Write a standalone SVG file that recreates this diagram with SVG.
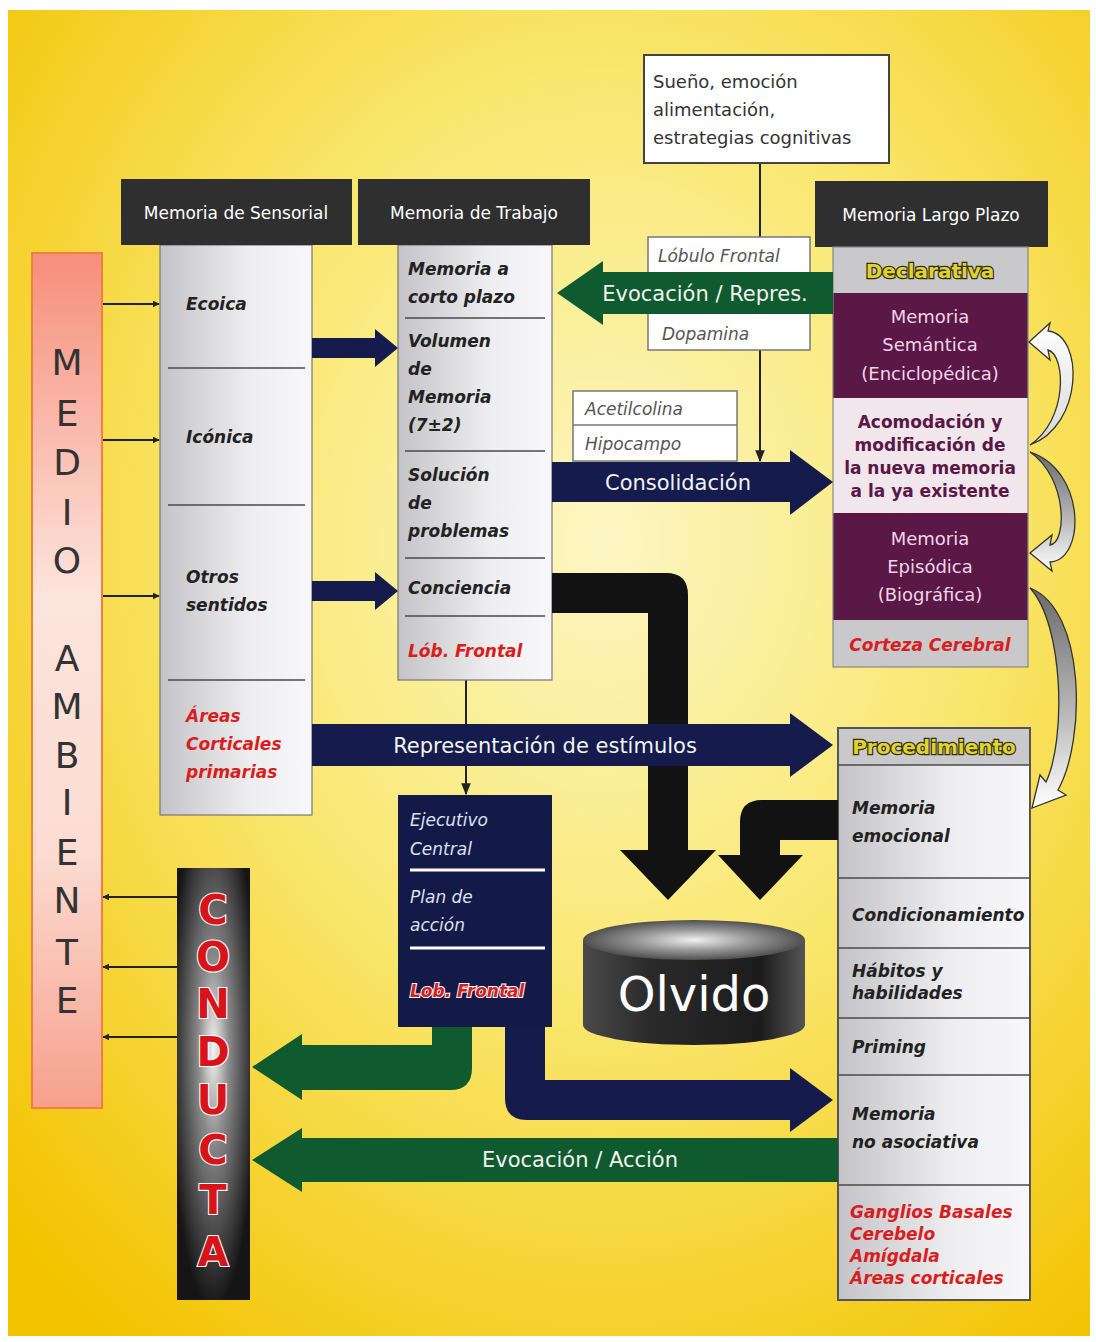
<svg xmlns="http://www.w3.org/2000/svg" width="1096" height="1342" viewBox="0 0 1096 1342">
<defs>
<radialGradient id="bg" cx="0.55" cy="0.4" r="0.75">
<stop offset="0" stop-color="#fcf6c4"/>
<stop offset="0.45" stop-color="#f9e872"/>
<stop offset="1" stop-color="#f3c300"/>
</radialGradient>
<linearGradient id="col" x1="0" y1="0" x2="1" y2="0">
<stop offset="0" stop-color="#c4c4c8"/>
<stop offset="0.6" stop-color="#eeeef0"/>
<stop offset="1" stop-color="#f8f8fa"/>
</linearGradient>
<linearGradient id="medio" x1="0" y1="0" x2="0" y2="1">
<stop offset="0" stop-color="#f68e7a"/>
<stop offset="0.4" stop-color="#fde4dc"/>
<stop offset="0.7" stop-color="#fcdcd2"/>
<stop offset="1" stop-color="#f6a08c"/>
</linearGradient>
<radialGradient id="cond" cx="0.5" cy="0.42" r="0.6">
<stop offset="0" stop-color="#f4f4f4"/>
<stop offset="0.35" stop-color="#8a8a8a"/>
<stop offset="1" stop-color="#151515"/>
</radialGradient>
<linearGradient id="cylBody" x1="0" y1="0" x2="1" y2="0">
<stop offset="0" stop-color="#4a4a4a"/>
<stop offset="0.3" stop-color="#2a2a2a"/>
<stop offset="0.8" stop-color="#1c1c1c"/>
<stop offset="1" stop-color="#555"/>
</linearGradient>
<radialGradient id="cylTop" cx="0.5" cy="0.5" r="0.5">
<stop offset="0" stop-color="#f0f0f0"/>
<stop offset="0.5" stop-color="#9a9a9a"/>
<stop offset="1" stop-color="#505050"/>
</radialGradient>
<linearGradient id="crescW" x1="0" y1="0" x2="0" y2="1">
<stop offset="0" stop-color="#ffffff"/>
<stop offset="1" stop-color="#d8d8d8"/>
</linearGradient>
<linearGradient id="crescG" x1="0" y1="0" x2="0" y2="1">
<stop offset="0" stop-color="#6a6a6a"/>
<stop offset="0.6" stop-color="#bdbdbd"/>
<stop offset="1" stop-color="#ffffff"/>
</linearGradient>
<marker id="ah" viewBox="0 0 10 10" refX="9" refY="5" markerWidth="7" markerHeight="7" orient="auto" markerUnits="userSpaceOnUse">
<path d="M0,0 L10,5 L0,10 Z" fill="#222"/>
</marker>
<marker id="ahs" viewBox="0 0 10 10" refX="9" refY="5" markerWidth="12" markerHeight="12" orient="auto" markerUnits="userSpaceOnUse">
<path d="M0,1 L10,5 L0,9 Z" fill="#222"/>
</marker>
<style>
.f{font-family:"DejaVu Sans","Verdana",sans-serif}
.hdr{fill:#2f2f2f}
.hdrt{fill:#ffffff;font-size:17px;text-anchor:middle}
.item{fill:#222;font-size:17px;font-weight:bold;font-style:italic}
.red{fill:#d81e1e;font-size:17px;font-weight:bold;font-style:italic}
.div{stroke:#4a4a4a;stroke-width:1.6}
.thin{stroke:#222;stroke-width:2;fill:none}
.gray{fill:#555;font-size:17px;font-style:italic}
.wl{fill:#f0f4ee;font-size:21px;text-anchor:middle}
.medio{fill:#333;font-size:36px;text-anchor:middle}
.condl{fill:#d8141a;stroke:#ffffff;stroke-width:2.2;paint-order:stroke;font-size:40px;font-weight:bold;text-anchor:middle}
.purp{fill:#f2d4ea;font-size:18px;text-anchor:middle}
.acom{fill:#5a1745;font-size:17px;font-weight:bold;text-anchor:middle}
.yel{fill:#e2d230;stroke:#2e2e08;stroke-width:2.4;paint-order:stroke;font-size:20px;font-weight:bold;text-anchor:middle}
.ej{fill:#dde0ee;font-size:17px;font-style:italic}
.navy{fill:#161b4d}
.green{fill:#0f5a2f}
.blk{fill:#121212}
</style>
</defs>

<rect x="0" y="0" width="1096" height="1342" fill="#ffffff"/>
<rect x="8" y="10" width="1082" height="1326" fill="url(#bg)"/>

<g id="connectors-thin">
<line class="thin" x1="760" y1="163" x2="760" y2="461" marker-end="url(#ahs)"/>
<line class="thin" x1="466" y1="680" x2="466" y2="794" marker-end="url(#ahs)"/>
<line class="thin" x1="102" y1="304" x2="159" y2="304" marker-end="url(#ah)"/>
<line class="thin" x1="102" y1="440" x2="159" y2="440" marker-end="url(#ah)"/>
<line class="thin" x1="102" y1="596" x2="159" y2="596" marker-end="url(#ah)"/>
<line class="thin" x1="177" y1="897" x2="103" y2="897" marker-end="url(#ah)"/>
<line class="thin" x1="177" y1="967" x2="103" y2="967" marker-end="url(#ah)"/>
<line class="thin" x1="177" y1="1037" x2="103" y2="1037" marker-end="url(#ah)"/>
</g>

<g id="node-sueno" class="f">
<rect x="644" y="55" width="245" height="108" fill="#ffffff" stroke="#444" stroke-width="2"/>
<text x="653" y="88" fill="#333" font-size="18">Sueño, emoción</text>
<text x="653" y="116" fill="#333" font-size="18">alimentación,</text>
<text x="653" y="144" fill="#333" font-size="18">estrategias cognitivas</text>
</g>

<g id="node-lobulo" class="f">
<rect x="648" y="237" width="162" height="113" fill="#ffffff" stroke="#777" stroke-width="1.5"/>
<text x="658" y="262" class="gray">Lóbulo Frontal</text>
<text x="662" y="340" class="gray">Dopamina</text>
</g>

<g id="node-acetil" class="f">
<rect x="573" y="391" width="164" height="70" fill="#ffffff" stroke="#777" stroke-width="1.5"/>
<line x1="573" y1="425" x2="737" y2="425" stroke="#777" stroke-width="1.5"/>
<text x="585" y="415" class="gray">Acetilcolina</text>
<text x="585" y="450" class="gray">Hipocampo</text>
</g>

<g id="node-medio" class="f">
<rect x="32" y="253" width="70" height="855" fill="url(#medio)" stroke="#f08040" stroke-width="2"/>
<text x="67" y="375" class="medio">M</text>
<text x="67" y="426" class="medio">E</text>
<text x="67" y="475" class="medio">D</text>
<text x="67" y="525" class="medio">I</text>
<text x="67" y="573" class="medio">O</text>
<text x="67" y="671" class="medio">A</text>
<text x="67" y="719" class="medio">M</text>
<text x="67" y="768" class="medio">B</text>
<text x="67" y="815" class="medio">I</text>
<text x="67" y="865" class="medio">E</text>
<text x="67" y="913" class="medio">N</text>
<text x="67" y="965" class="medio">T</text>
<text x="67" y="1013" class="medio">E</text>
</g>

<g id="node-sensorial" class="f">
<rect x="160" y="245" width="152" height="570" fill="url(#col)" stroke="#777" stroke-width="1.2"/>
<rect x="121" y="179" width="231" height="66" class="hdr"/>
<text x="236" y="219" class="hdrt">Memoria de Sensorial</text>
<line class="div" x1="168" y1="368" x2="305" y2="368"/>
<line class="div" x1="168" y1="505" x2="305" y2="505"/>
<line class="div" x1="168" y1="680" x2="305" y2="680"/>
<text x="186" y="310" class="item">Ecoica</text>
<text x="186" y="443" class="item">Icónica</text>
<text x="186" y="583" class="item">Otros</text>
<text x="186" y="611" class="item">sentidos</text>
<text x="186" y="722" class="red">Áreas</text>
<text x="186" y="750" class="red">Corticales</text>
<text x="186" y="778" class="red">primarias</text>
</g>

<g id="node-trabajo" class="f">
<rect x="398" y="245" width="154" height="435" fill="url(#col)" stroke="#777" stroke-width="1.2"/>
<rect x="358" y="179" width="232" height="66" class="hdr"/>
<text x="474" y="219" class="hdrt">Memoria de Trabajo</text>
<line class="div" x1="405" y1="318" x2="545" y2="318"/>
<line class="div" x1="405" y1="451" x2="545" y2="451"/>
<line class="div" x1="405" y1="558" x2="545" y2="558"/>
<line class="div" x1="405" y1="616" x2="545" y2="616"/>
<text x="408" y="275" class="item">Memoria a</text>
<text x="408" y="303" class="item">corto plazo</text>
<text x="408" y="347" class="item">Volumen</text>
<text x="408" y="375" class="item">de</text>
<text x="408" y="403" class="item">Memoria</text>
<text x="408" y="431" class="item">(7±2)</text>
<text x="408" y="481" class="item">Solución</text>
<text x="408" y="509" class="item">de</text>
<text x="408" y="537" class="item">problemas</text>
<text x="408" y="594" class="item">Conciencia</text>
<text x="408" y="657" class="red">Lób. Frontal</text>
</g>

<g id="node-largo" class="f">
<rect x="815" y="181" width="233" height="66" class="hdr"/>
<text x="931" y="221" class="hdrt">Memoria Largo Plazo</text>
<rect x="833" y="247" width="195" height="46" fill="#c9c9cb"/>
<text x="930" y="278" class="yel">Declarativa</text>
<rect x="833" y="293" width="195" height="105" fill="#5a1846"/>
<text x="930" y="323" class="purp">Memoria</text>
<text x="930" y="351" class="purp">Semántica</text>
<text x="930" y="380" class="purp">(Enciclopédica)</text>
<rect x="833" y="398" width="195" height="115" fill="#f0e6ec"/>
<text x="930" y="428" class="acom">Acomodación y</text>
<text x="930" y="451" class="acom">modificación de</text>
<text x="930" y="474" class="acom">la nueva memoria</text>
<text x="930" y="497" class="acom">a la ya existente</text>
<rect x="833" y="513" width="195" height="107" fill="#5a1846"/>
<text x="930" y="545" class="purp">Memoria</text>
<text x="930" y="573" class="purp">Episódica</text>
<text x="930" y="601" class="purp">(Biográfica)</text>
<rect x="833" y="620" width="195" height="47" fill="#c9c9cb"/>
<text x="930" y="651" class="red" text-anchor="middle" font-style="normal">Corteza Cerebral</text>
<rect x="833" y="247" width="195" height="420" fill="none" stroke="#888" stroke-width="1.2"/>
</g>

<g id="node-procedimiento" class="f">
<rect x="838" y="728" width="192" height="572" fill="url(#col)" stroke="#555" stroke-width="2"/>
<rect x="839" y="729" width="190" height="36" fill="#c9c9cb"/>
<text x="934" y="754" class="yel">Procedimiento</text>
<line class="div" x1="838" y1="765" x2="1030" y2="765" stroke-width="2"/>
<line class="div" x1="838" y1="878" x2="1030" y2="878" stroke-width="2"/>
<line class="div" x1="838" y1="948" x2="1030" y2="948" stroke-width="2"/>
<line class="div" x1="838" y1="1018" x2="1030" y2="1018" stroke-width="2"/>
<line class="div" x1="838" y1="1075" x2="1030" y2="1075" stroke-width="2"/>
<line class="div" x1="838" y1="1185" x2="1030" y2="1185" stroke-width="2"/>
<text x="852" y="814" class="item">Memoria</text>
<text x="852" y="842" class="item">emocional</text>
<text x="852" y="921" class="item" font-style="normal" font-size="16">Condicionamiento</text>
<text x="852" y="977" class="item">Hábitos y</text>
<text x="852" y="999" class="item">habilidades</text>
<text x="852" y="1053" class="item">Priming</text>
<text x="852" y="1120" class="item">Memoria</text>
<text x="852" y="1148" class="item">no asociativa</text>
<text x="850" y="1218" class="red" font-size="16">Ganglios Basales</text>
<text x="850" y="1240" class="red" font-size="16">Cerebelo</text>
<text x="850" y="1262" class="red" font-size="16">Amígdala</text>
<text x="850" y="1284" class="red" font-size="16">Áreas corticales</text>
</g>

<g id="connectors">
<polygon class="navy" points="312,338 375,338 375,329 398,348 375,367 375,358 312,358"/>
<polygon class="navy" points="312,581 375,581 375,572 398,591 375,610 375,601 312,601"/>
<polygon class="green" points="557,293 603,261 603,272 833,272 833,314 603,314 603,325"/>
<text x="705" y="301" class="f wl">Evocación / Repres.</text>
<polygon class="navy" points="552,462 790,462 790,450 833,482 790,515 790,502 552,502"/>
<text x="678" y="490" class="f wl">Consolidación</text>
<path class="blk" d="M552,573 L666,573 Q688,573 688,595 L688,850 L716,850 L668,900 L620,850 L648,850 L648,613 L552,613 Z"/>
<path class="blk" d="M838,800 L762,800 Q740,800 740,822 L740,855 L718,855 L760,900 L803,855 L780,855 L780,840 L838,840 Z"/>
<polygon class="navy" points="312,724 790,724 790,713 833,745 790,777 790,766 312,766"/>
<text x="545" y="753" class="f wl">Representación de estímulos</text>
<path class="navy" d="M505,1027 L545,1027 L545,1080 L790,1080 L790,1068 L833,1100 L790,1132 L790,1120 L527,1120 Q505,1120 505,1098 Z"/>
<path class="green" d="M432,1027 L472,1027 L472,1068 Q472,1090 450,1090 L302,1090 L302,1100 L252,1067 L302,1034 L302,1045 L432,1045 Z"/>
<polygon class="green" points="252,1160 302,1128 302,1138 838,1138 838,1182 302,1182 302,1192"/>
<text x="580" y="1167" class="f wl">Evocación / Acción</text>
<path d="M1030,445 C1084,425 1084,335 1048,331 L1050,323 L1029,342 L1050,360 L1048,350 C1066,355 1068,420 1030,445 Z" fill="url(#crescW)" stroke="#333" stroke-width="1.3"/>
<path d="M1030,452 C1086,470 1086,560 1050,562 L1052,571 L1030,553 L1052,535 L1050,545 C1067,543 1068,478 1030,452 Z" fill="url(#crescG)" stroke="#333" stroke-width="1.3"/>
<path d="M1030,588 C1086,610 1086,740 1058,790 L1066,795 L1032,808 L1040,775 L1046,782 C1066,740 1064,625 1030,588 Z" fill="url(#crescG)" stroke="#333" stroke-width="1.3"/>
</g>

<g id="node-ejecutivo" class="f">
<rect x="398" y="795" width="154" height="232" fill="#141a48"/>
<text x="410" y="826" class="ej">Ejecutivo</text>
<text x="410" y="855" class="ej">Central</text>
<line x1="410" y1="870" x2="545" y2="870" stroke="#ffffff" stroke-width="3"/>
<text x="410" y="903" class="ej">Plan de</text>
<text x="410" y="931" class="ej">acción</text>
<line x1="410" y1="948" x2="545" y2="948" stroke="#ffffff" stroke-width="3"/>
<text x="410" y="997" class="red" stroke="#ffffff" stroke-width="2" paint-order="stroke">Lob. Frontal</text>
</g>

<g id="node-olvido" class="f">
<path d="M583,940 L583,1025 A111,20 0 0 0 805,1025 L805,940 Z" fill="url(#cylBody)"/>
<ellipse cx="694" cy="940" rx="111" ry="20" fill="url(#cylTop)"/>
<text x="694" y="1011" fill="#ffffff" font-size="48" text-anchor="middle">Olvido</text>
</g>

<g id="node-conducta" class="f">
<rect x="177" y="868" width="73" height="432" fill="url(#cond)"/>
<text x="213" y="924" class="condl">C</text>
<text x="213" y="971" class="condl">O</text>
<text x="213" y="1018" class="condl">N</text>
<text x="213" y="1066" class="condl">D</text>
<text x="213" y="1114" class="condl">U</text>
<text x="213" y="1164" class="condl">C</text>
<text x="213" y="1214" class="condl">T</text>
<text x="213" y="1266" class="condl">A</text>
</g>
</svg>
